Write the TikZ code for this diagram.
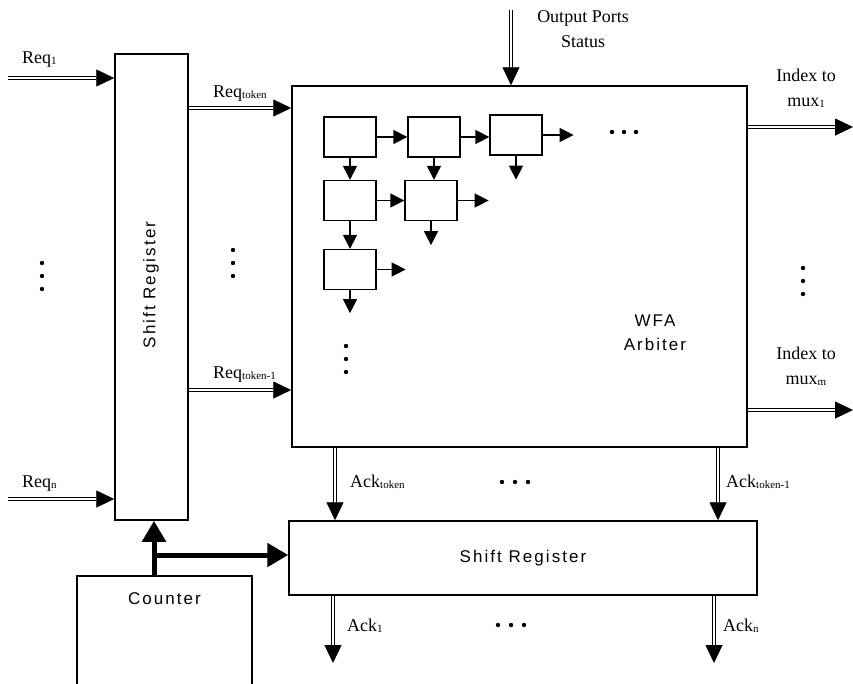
\documentclass[tikz,border=0pt]{standalone}
\usepackage{fontspec}
\setmainfont{Liberation Serif}
\newfontfamily\boxfont[LetterSpace=12]{Liberation Sans}
\usetikzlibrary{arrows.meta,positioning}
\newcommand\lsub[1]{\raisebox{-1pt}{\fontsize{11}{11}\selectfont #1}}
\tikzstyle{blk}=[rectangle,draw,line width=1.5pt,inner sep=0pt]
\tikzstyle{cell}=[rectangle,draw,line width=1.3pt,minimum width=52pt,minimum height=40pt,inner sep=0pt]
\tikzstyle{boxtxt}=[font=\fontsize{17}{24}\boxfont,align=center,inner sep=0pt]
\tikzstyle{lbl}=[font=\fontsize{18}{25}\selectfont,align=center,inner sep=0pt]
\tikzstyle{bus}=[double,double distance=1.6pt,line width=0.9pt,-{Triangle[length=18pt,width=17pt]}]
\tikzstyle{sig}=[line width=1.3pt,-{Triangle[length=14pt,width=14pt]}]
\tikzstyle{ctl}=[line width=5pt,-{Triangle[length=21pt,width=23pt]}]
\begin{document}
\begin{tikzpicture}[x=1pt,y=-1pt]
\useasboundingbox (0,0) rectangle (853,683);
\clip (0,0) rectangle (853,683);
\node[blk, minimum width=73pt, minimum height=466pt] (sregl) at (151.5,287) {};
\node[boxtxt, rotate=90] (sregltxt) at (151,285) {Shift Register};
\node[blk, minimum width=455pt, minimum height=361pt] (wfa) at (519.5,266.5) {};
\node[boxtxt] (wfatxt) at (655,333) {WFA\\Arbiter};
\node[blk, boxtxt, minimum width=468pt, minimum height=74pt] (sregb) at (523,558) {Shift Register};
\node[blk, minimum width=175pt, minimum height=140pt] (counter) at (164.5,646) {};
\node[boxtxt] (countertxt) at (164.5,599) {Counter};
\node[cell] (c11) at (350,137) {};
\node[cell] (c12) at (434,137) {};
\node[cell] (c13) at (516,135) {};
\node[cell] (c21) at (350,200.5) {};
\node[cell] (c22) at (431,200.5) {};
\node[cell] (c31) at (350,269.5) {};
\coordinate[right=31pt of c13] (c13r);
\coordinate[below=24pt of c13] (c13d);
\coordinate[right=31pt of c22] (c22r);
\coordinate[below=24pt of c22] (c22d);
\coordinate[right=29pt of c31] (c31r);
\coordinate[below=23pt of c31] (c31d);
\draw[sig] (c11) -- (c12);
\draw[sig] (c12.east) -- (c12.east -| c13.west);
\draw[sig] (c11) -- (c21);
\draw[sig] (c12.south) -- (c12.south |- c22.north);
\draw[sig] (c21) -- (c22);
\draw[sig] (c21) -- (c31);
\draw[sig] (c13.east) -- (c13r);
\draw[sig] (c13.south) -- (c13d);
\draw[sig] (c22.east) -- (c22r);
\draw[sig] (c22.south) -- (c22d);
\draw[sig] (c31.east) -- (c31r);
\draw[sig] (c31.south) -- (c31d);
\coordinate (req1) at (8,78);
\coordinate (reqn) at (8,499);
\coordinate (rowtok) at (0,108);
\coordinate (rowtokm) at (0,390);
\coordinate (ops) at (511,10);
\coordinate (mux1) at (853,127);
\coordinate (muxm) at (853,410);
\coordinate (acktok) at (335,0);
\coordinate (acktokm) at (718,0);
\coordinate (ack1) at (333,663);
\coordinate (ackn) at (714,663);
\coordinate (cbus) at (154,555);
\draw[bus] (req1) -- (req1 -| sregl.west);
\draw[bus] (reqn) -- (reqn -| sregl.west);
\draw[bus] (rowtok -| sregl.east) -- (rowtok -| wfa.west);
\draw[bus] (rowtokm -| sregl.east) -- (rowtokm -| wfa.west);
\draw[bus] (ops) -- (ops |- wfa.north);
\draw[bus] (mux1 -| wfa.east) -- (mux1);
\draw[bus] (muxm -| wfa.east) -- (muxm);
\draw[bus] (acktok |- wfa.south) -- (acktok |- sregb.north);
\draw[bus] (acktokm |- wfa.south) -- (acktokm |- sregb.north);
\draw[bus] (ack1 |- sregb.south) -- (ack1);
\draw[bus] (ackn |- sregb.south) -- (ackn);
\draw[ctl] (cbus |- counter.north) -- (cbus |- sregl.south);
\draw[ctl] (cbus) -- (cbus -| sregb.west);
\node[lbl, anchor=base west] (lreq1) at (22,63) {Req\lsub{1}};
\node[lbl, anchor=base west] (lreqn) at (22,487) {Req\lsub{n}};
\node[lbl, anchor=base west] (lreqtok) at (213,97) {Req\lsub{token}};
\node[lbl, anchor=base west] (lreqtokm) at (213,378) {Req\lsub{token-1}};
\node[lbl] (lops) at (583,29) {Output Ports\\Status};
\node[lbl] (lmux1) at (806,88) {Index to\\mux\lsub{1}};
\node[lbl] (lmuxm) at (806,366) {Index to\\mux\lsub{m}};
\node[lbl, anchor=base west] (lacktok) at (350,487) {Ack\lsub{token}};
\node[lbl, anchor=base west] (lacktokm) at (726,487) {Ack\lsub{token-1}};
\node[lbl, anchor=base west] (lack1) at (347,631) {Ack\lsub{1}};
\node[lbl, anchor=base west] (lackn) at (723,631) {Ack\lsub{n}};
\foreach \y in {263,276,289} \fill (42,\y) circle (2.2pt);
\foreach \y in {250,263,276} \fill (233,\y) circle (2.2pt);
\foreach \y in {268,281,294} \fill (803,\y) circle (2.2pt);
\foreach \y in {346,359,372} \fill (346,\y) circle (2.2pt);
\foreach \x in {612,624,636} \fill (\x,132) circle (2.2pt);
\foreach \x in {502,515,528} \fill (\x,482) circle (2.2pt);
\foreach \x in {498,511,524} \fill (\x,625) circle (2.2pt);
\end{tikzpicture}
\end{document}
